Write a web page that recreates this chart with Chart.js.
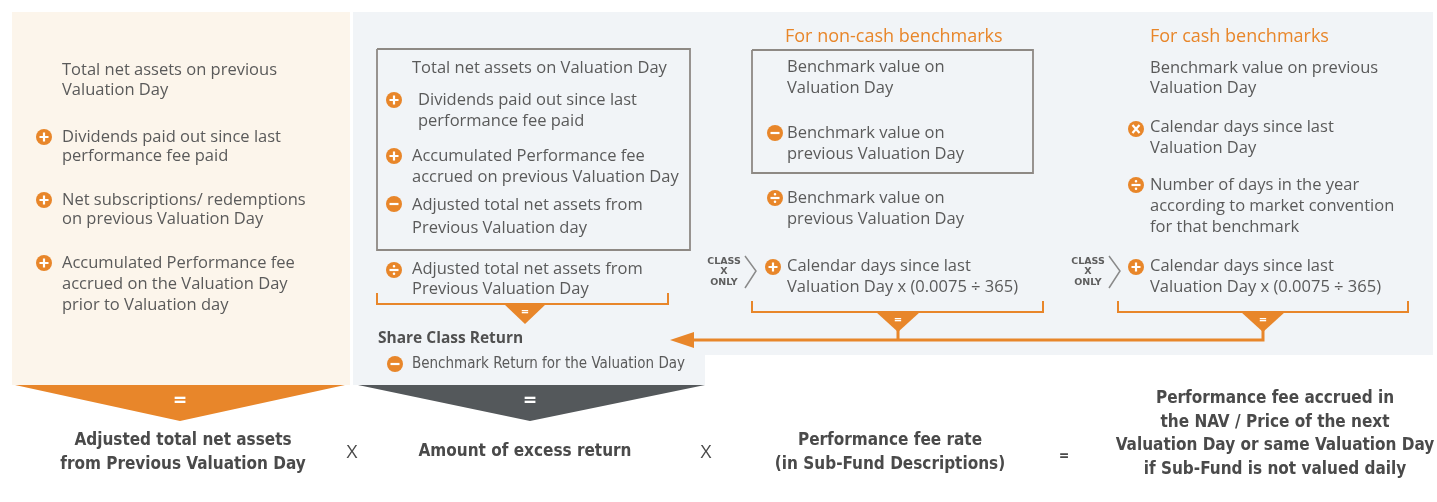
<!DOCTYPE html>
<html>
<head>
<meta charset="utf-8">
<script src="https://cdn.jsdelivr.net/npm/chart.js@4.4.1/dist/chart.umd.min.js"></script>
<style>
html, body { margin: 0; padding: 0; background: #ffffff; }
#wrap { width: 1437px; height: 502px; position: relative; }
</style>
</head>
<body>
<div id="wrap"><canvas id="fee-chart"></canvas></div>
<script>
const ORANGE = '#e8862a';
const DARK = '#54585b';
const TEXT = '#5a5a5a';
const BOLD_TEXT = '#4a4a4a';
const BOX = '#8e8984';

const BODY = '16.5px "Open Sans", sans-serif';
const NARROW = '15px "Liberation Sans Narrow", "DejaVu Sans Condensed", sans-serif';
const NARROW_BOLD = 'bold 17px "Liberation Sans Narrow", "DejaVu Sans Condensed", sans-serif';
const TAG = 'bold 9.5px "DejaVu Sans", sans-serif';
const HEAD = '18px "Open Sans", sans-serif';
const EQ_SMALL = 'bold 13px "Open Sans", sans-serif';

// filled areas: panels and triangles
const shapes = [
    { pts: [[12, 12], [350, 12], [350, 385], [12, 385]], color: '#fcf5eb', order: 20 },
    { pts: [[353, 12], [1433, 12], [1433, 355], [705, 355], [705, 385], [353, 385]], color: '#f1f4f7', order: 20 },
    { pts: [[15, 385], [345, 385], [180, 421]], color: ORANGE, order: 5 },
    { pts: [[358, 385], [705, 385], [530, 421]], color: DARK, order: 5 },
    { pts: [[504, 304], [546, 304], [525, 324]], color: ORANGE, order: 5 },
    { pts: [[876, 312], [920, 312], [898, 332]], color: ORANGE, order: 5 },
    { pts: [[1241, 312], [1285, 312], [1263, 332]], color: ORANGE, order: 5 },
    { pts: [[670, 340], [694, 332], [694, 348]], color: ORANGE, order: 5 }
];

// outlines, brackets, connectors
const paths = [
    { pts: [[377, 49], [690, 49], [690, 250], [377, 250], [377, 49]], color: BOX, width: 1.8 },
    { pts: [[752, 50], [1033, 50], [1033, 173], [752, 173], [752, 50]], color: BOX, width: 1.8 },
    { pts: [[377, 293], [377, 304], [668, 304], [668, 293]], color: ORANGE, width: 2 },
    { pts: [[752, 301], [752, 312], [1043, 312], [1043, 301]], color: ORANGE, width: 2 },
    { pts: [[1118, 301], [1118, 312], [1408, 312], [1408, 301]], color: ORANGE, width: 2 },
    { pts: [[690, 340], [1263, 340], [1263, 330]], color: ORANGE, width: 3 },
    { pts: [[898, 330], [898, 340]], color: ORANGE, width: 3 },
    { pts: [[745, 256], [756, 271], [745, 288]], color: '#8a8a8a', width: 1.5 },
    { pts: [[1109, 256], [1120, 271], [1109, 288]], color: '#8a8a8a', width: 1.5 }
];

const bullets = [
    { x: 44, y: 137, sym: '+' }, { x: 44, y: 200, sym: '+' }, { x: 44, y: 263, sym: '+' },
    { x: 394, y: 100, sym: '+' }, { x: 394, y: 156, sym: '+' }, { x: 394, y: 204, sym: '-' },
    { x: 394, y: 270, sym: '/' }, { x: 395, y: 364, sym: '-' },
    { x: 775, y: 133, sym: '-' }, { x: 775, y: 198, sym: '/' }, { x: 773, y: 267, sym: '+' },
    { x: 1136, y: 129, sym: 'x' }, { x: 1136, y: 185, sym: '/' }, { x: 1136, y: 267, sym: '+' }
];

const labels = [
    // column 1
    { x: 62, y: 70, t: 'Total net assets on previous' },
    { x: 62, y: 90, t: 'Valuation Day' },
    { x: 62, y: 137, t: 'Dividends paid out since last' },
    { x: 62, y: 156, t: 'performance fee paid' },
    { x: 62, y: 200, t: 'Net subscriptions/ redemptions' },
    { x: 62, y: 219, t: 'on previous Valuation Day' },
    { x: 62, y: 263, t: 'Accumulated Performance fee' },
    { x: 62, y: 284, t: 'accrued on the Valuation Day' },
    { x: 62, y: 305, t: 'prior to Valuation day' },
    // column 2
    { x: 412, y: 68, t: 'Total net assets on Valuation Day' },
    { x: 418, y: 100, t: 'Dividends paid out since last' },
    { x: 418, y: 121, t: 'performance fee paid' },
    { x: 412, y: 156, t: 'Accumulated Performance fee' },
    { x: 412, y: 177, t: 'accrued on previous Valuation Day' },
    { x: 412, y: 205, t: 'Adjusted total net assets from' },
    { x: 412, y: 228, t: 'Previous Valuation day' },
    { x: 412, y: 269, t: 'Adjusted total net assets from' },
    { x: 412, y: 289, t: 'Previous Valuation Day' },
    { x: 378, y: 339, t: 'Share Class Return', font: 'bold 15.5px "Open Sans", sans-serif', color: '#505050' },
    { x: 412, y: 364, t: 'Benchmark Return for the Valuation Day', font: NARROW },
    // column 3
    { x: 785, y: 37, t: 'For non-cash benchmarks', font: HEAD, color: ORANGE },
    { x: 787, y: 67, t: 'Benchmark value on' },
    { x: 787, y: 88, t: 'Valuation Day' },
    { x: 787, y: 133, t: 'Benchmark value on' },
    { x: 787, y: 154, t: 'previous Valuation Day' },
    { x: 787, y: 198, t: 'Benchmark value on' },
    { x: 787, y: 219, t: 'previous Valuation Day' },
    { x: 787, y: 266, t: 'Calendar days since last' },
    { x: 787, y: 287, t: 'Valuation Day x (0.0075 \u00f7 365)' },
    // column 4
    { x: 1150, y: 37, t: 'For cash benchmarks', font: HEAD, color: ORANGE },
    { x: 1150, y: 68, t: 'Benchmark value on previous' },
    { x: 1150, y: 88, t: 'Valuation Day' },
    { x: 1150, y: 127, t: 'Calendar days since last' },
    { x: 1150, y: 148, t: 'Valuation Day' },
    { x: 1150, y: 185, t: 'Number of days in the year' },
    { x: 1150, y: 206, t: 'according to market convention' },
    { x: 1150, y: 227, t: 'for that benchmark' },
    { x: 1150, y: 266, t: 'Calendar days since last' },
    { x: 1150, y: 287, t: 'Valuation Day x (0.0075 \u00f7 365)' },
    // class x only tags
    { x: 724, y: 262, t: 'CLASS', font: TAG, align: 'center', color: '#5e5e5e' },
    { x: 724, y: 272, t: 'X', font: TAG, align: 'center', color: '#5e5e5e' },
    { x: 724, y: 283, t: 'ONLY', font: TAG, align: 'center', color: '#5e5e5e' },
    { x: 1088, y: 262, t: 'CLASS', font: TAG, align: 'center', color: '#5e5e5e' },
    { x: 1088, y: 272, t: 'X', font: TAG, align: 'center', color: '#5e5e5e' },
    { x: 1088, y: 283, t: 'ONLY', font: TAG, align: 'center', color: '#5e5e5e' },
    // equals signs in the triangles
    { x: 180, y: 401, t: '=', font: 'bold 22px "Open Sans", sans-serif', align: 'center', color: '#ffffff' },
    { x: 530, y: 401, t: '=', font: 'bold 22px "Open Sans", sans-serif', align: 'center', color: '#ffffff' },
    { x: 525, y: 312, t: '=', font: EQ_SMALL, align: 'center', color: '#ffffff' },
    { x: 898, y: 320, t: '=', font: EQ_SMALL, align: 'center', color: '#ffffff' },
    { x: 1263, y: 320, t: '=', font: EQ_SMALL, align: 'center', color: '#ffffff' },
    // bottom formula row
    { x: 183, y: 441, t: 'Adjusted total net assets', font: NARROW_BOLD, align: 'center', color: BOLD_TEXT },
    { x: 183, y: 465, t: 'from Previous Valuation Day', font: NARROW_BOLD, align: 'center', color: BOLD_TEXT },
    { x: 352, y: 453, t: 'X', font: '19px "Open Sans", sans-serif', align: 'center', color: BOLD_TEXT },
    { x: 525, y: 452, t: 'Amount of excess return', font: NARROW_BOLD, align: 'center', color: BOLD_TEXT },
    { x: 706, y: 453, t: 'X', font: '19px "Open Sans", sans-serif', align: 'center', color: BOLD_TEXT },
    { x: 890, y: 441, t: 'Performance fee rate', font: NARROW_BOLD, align: 'center', color: BOLD_TEXT },
    { x: 890, y: 465, t: '(in Sub-Fund Descriptions)', font: NARROW_BOLD, align: 'center', color: BOLD_TEXT },
    { x: 1064, y: 456, t: '=', font: 'bold 16px "Open Sans", sans-serif', align: 'center', color: BOLD_TEXT },
    { x: 1275, y: 399, t: 'Performance fee accrued in', font: NARROW_BOLD, align: 'center', color: BOLD_TEXT },
    { x: 1275, y: 423, t: 'the NAV / Price of the next', font: NARROW_BOLD, align: 'center', color: BOLD_TEXT },
    { x: 1275, y: 446, t: 'Valuation Day or same Valuation Day', font: NARROW_BOLD, align: 'center', color: BOLD_TEXT },
    { x: 1275, y: 470, t: 'if Sub-Fund is not valued daily', font: NARROW_BOLD, align: 'center', color: BOLD_TEXT }
];

const toXY = pts => pts.map(([x, y]) => ({ x, y }));

const datasets = [];
shapes.forEach(s => datasets.push({
    type: 'line',
    data: toXY(s.pts),
    backgroundColor: s.color,
    borderColor: s.color,
    borderWidth: 0,
    fill: 'shape',
    pointRadius: 0,
    tension: 0,
    order: s.order
}));
paths.forEach(p => datasets.push({
    type: 'line',
    data: toXY(p.pts),
    borderColor: p.color,
    borderWidth: p.width,
    fill: false,
    pointRadius: 0,
    tension: 0,
    order: 10
}));
datasets.push({
    type: 'scatter',
    data: bullets.map(b => ({ x: b.x, y: b.y })),
    backgroundColor: ORANGE,
    borderWidth: 0,
    pointRadius: 8,
    order: 1
});

// draws the bullet symbols and all the text, positioned through the chart scales
const textPlugin = {
    id: 'flowText',
    afterDatasetsDraw(chart) {
        const ctx = chart.ctx;
        const xs = chart.scales.x;
        const ys = chart.scales.y;
        ctx.save();

        ctx.strokeStyle = '#ffffff';
        ctx.fillStyle = '#ffffff';
        ctx.lineWidth = 2.2;
        bullets.forEach(b => {
            const px = xs.getPixelForValue(b.x);
            const py = ys.getPixelForValue(b.y);
            ctx.beginPath();
            if (b.sym === '+' || b.sym === '-' || b.sym === '/') {
                ctx.moveTo(px - 4.5, py);
                ctx.lineTo(px + 4.5, py);
            }
            if (b.sym === '+') {
                ctx.moveTo(px, py - 4.5);
                ctx.lineTo(px, py + 4.5);
            }
            if (b.sym === 'x') {
                ctx.moveTo(px - 3.5, py - 4);
                ctx.lineTo(px + 3.5, py + 4);
                ctx.moveTo(px + 3.5, py - 4);
                ctx.lineTo(px - 3.5, py + 4);
            }
            ctx.stroke();
            if (b.sym === '/') {
                ctx.beginPath();
                ctx.arc(px, py - 3.8, 1.3, 0, Math.PI * 2);
                ctx.arc(px, py + 3.8, 1.3, 0, Math.PI * 2);
                ctx.fill();
            }
        });

        ctx.textBaseline = 'middle';
        labels.forEach(l => {
            ctx.font = l.font || BODY;
            ctx.fillStyle = l.color || TEXT;
            ctx.textAlign = l.align || 'left';
            ctx.fillText(l.t, xs.getPixelForValue(l.x), ys.getPixelForValue(l.y));
        });
        ctx.restore();
    }
};

new Chart(document.getElementById('fee-chart').getContext('2d'), {
    type: 'scatter',
    data: { datasets: datasets },
    options: {
        responsive: true,
        maintainAspectRatio: false,
        animation: false,
        layout: { padding: 0, autoPadding: false },
        plugins: { legend: { display: false }, tooltip: { enabled: false } },
        scales: {
            x: { type: 'linear', min: 0, max: 1437, display: false },
            y: { type: 'linear', min: 0, max: 502, reverse: true, display: false }
        }
    },
    plugins: [textPlugin]
});
</script>
</body>
</html>
